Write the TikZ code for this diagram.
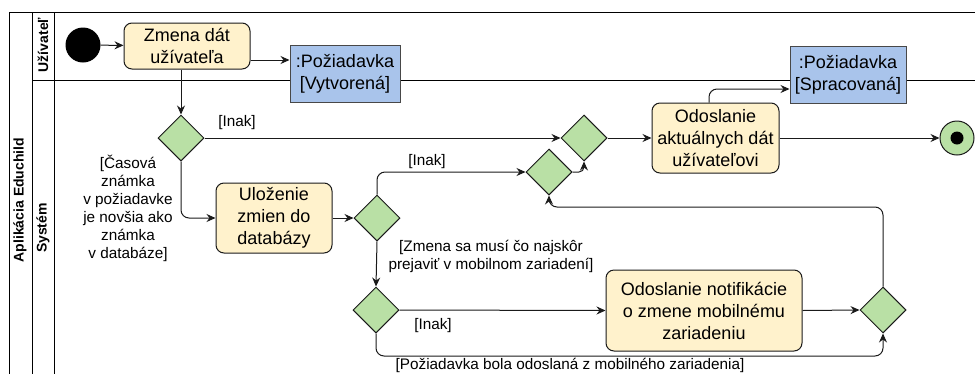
\documentclass[tikz,border=0pt]{standalone}
\usepackage{fontspec}
\setmainfont{Liberation Sans}
\usetikzlibrary{arrows.meta,shapes.geometric,calc}

\definecolor{actfill}{HTML}{FFF2CC}
\definecolor{decfill}{HTML}{B9E0A5}
\definecolor{objfill}{HTML}{A9C4EB}
\definecolor{edgecol}{HTML}{1A1A1A}

\tikzset{
  lane/.style={line width=1pt, draw=black},
  action/.style={draw=edgecol, line width=1pt, fill=actfill, rounded corners=8pt,
    align=center, inner sep=2pt, font=\fontsize{18}{22}\selectfont},
  objbox/.style={draw=edgecol!80, line width=1pt, fill=objfill, align=center,
    inner sep=2pt, font=\fontsize{18}{22}\selectfont},
  decision/.style={diamond, draw=edgecol, line width=1pt, fill=decfill,
    minimum width=46pt, minimum height=46pt, inner sep=0pt},
  guard/.style={align=center, inner sep=0pt, font=\fontsize{15.3}{18}\selectfont},
  lanetitle/.style={rotate=90, font=\bfseries\fontsize{14}{17}\selectfont},
  flow/.style={draw=edgecol, line width=1pt, rounded corners=8pt,
    -{Stealth[length=9pt,width=8pt,inset=3pt]}},
}

\begin{document}
\begin{tikzpicture}[x=1pt,y=-1pt]
\useasboundingbox (0,0) rectangle (975,373);

% pool and swimlane frame
\draw[lane] (9,390) -- (9,12) -- (975,12);
\draw[lane] (32,12) -- (32,390);
\draw[lane] (54,12) -- (54,390);
\draw[lane] (32,80) -- (975,80);
\node[lanetitle] (pool) at (20,200) {Aplikácia Educhild};
\node[lanetitle] (laneuser) at (43,45) {Užívateľ};
\node[lanetitle] (lanesys) at (43,228) {Systém};

% activity nodes
\node[circle, fill=black, minimum size=35pt, inner sep=0pt] (start) at (83,45) {};
\node[action, minimum width=126pt, minimum height=46pt] (zmena) at (187,46) {Zmena dát\\užívateľa};
\node[objbox, minimum width=110pt, minimum height=57pt] (vyt) at (345,74) {:Požiadavka\\{[}Vytvorená{]}};
\node[decision] (d1) at (181,138) {};
\node[action, minimum width=116pt, minimum height=70pt] (ulozenie) at (274,218) {Uloženie\\zmien do\\databázy};
\node[decision] (d2) at (377,218) {};
\node[decision] (d4) at (549,172) {};
\node[decision] (d3) at (584,138) {};
\node[action, minimum width=127pt, minimum height=70pt] (aktual) at (715.5,138) {Odoslanie\\aktuálnych dát\\užívateľovi};
\node[objbox, minimum width=116pt, minimum height=57pt] (sprac) at (848,74.5) {:Požiadavka\\{[}Spracovaná{]}};
\node[circle, draw=edgecol, line width=1pt, fill=decfill, minimum size=34pt, inner sep=0pt] (end) at (957,138) {};
\node[circle, fill=black, minimum size=13pt, inner sep=0pt] (enddot) at (end.center) {};
\node[decision] (d5) at (376,310) {};
\node[action, minimum width=196pt, minimum height=81pt] (notif) at (704,310.5) {Odoslanie notifikácie\\o zmene mobilnému\\zariadeniu};
\node[decision] (d6) at (883,310) {};

% control flow
\draw[flow] (start) -- (zmena);
\draw[flow] (zmena.east |- 0,60) -- (vyt.west |- 0,60);
\draw[flow] (zmena.south -| d1.north) -- (d1.north);
\draw[flow] (d1.east) -- (d3.west);
\node[guard] (g1) at (237,123) {[Inak]};
\node[guard] (g2) at (128,208) {[Časová\\známka\\v požiadavke\\je novšia ako\\známka\\v databáze]};
\draw[flow] (d1.south) |- (ulozenie.west);
\draw[flow] (ulozenie.east) -- (d2.west);
\draw[flow] (d2.north) |- (d4.west);
\node[guard] (g3) at (427,162) {[Inak]};
\draw[flow, rounded corners=5pt] (d4.east) -| (d3.south);
\draw[flow] (d3.east) -- (aktual.west);
\draw[flow] ([xshift=-6.5pt]aktual.north) |- (sprac.west |- 0,89);
\draw[flow] (aktual.east) -- (end.west);
\draw[flow] (d2.south) -- (d5.north);
\node[guard] (g4) at (491,256) {[Zmena sa musí čo najskôr\\prejaviť v mobilnom zariadení]};
\draw[flow] (d5.east) -- (notif.west);
\node[guard] (g5) at (433,326) {[Inak]};
\draw[flow] (notif.east) -- (d6.west);
\draw[flow] (d5.south) -- (d5.south |- 0,356) -- (d6.south |- 0,356) -- (d6.south);
\node[guard] (g6) at (570,365.5) {[Požiadavka bola odoslaná z mobilného zariadenia]};
\draw[flow] (d6.north) -- (d6.north |- 0,207) -- (d4.south |- 0,207) -- (d4.south);
\end{tikzpicture}
\end{document}
